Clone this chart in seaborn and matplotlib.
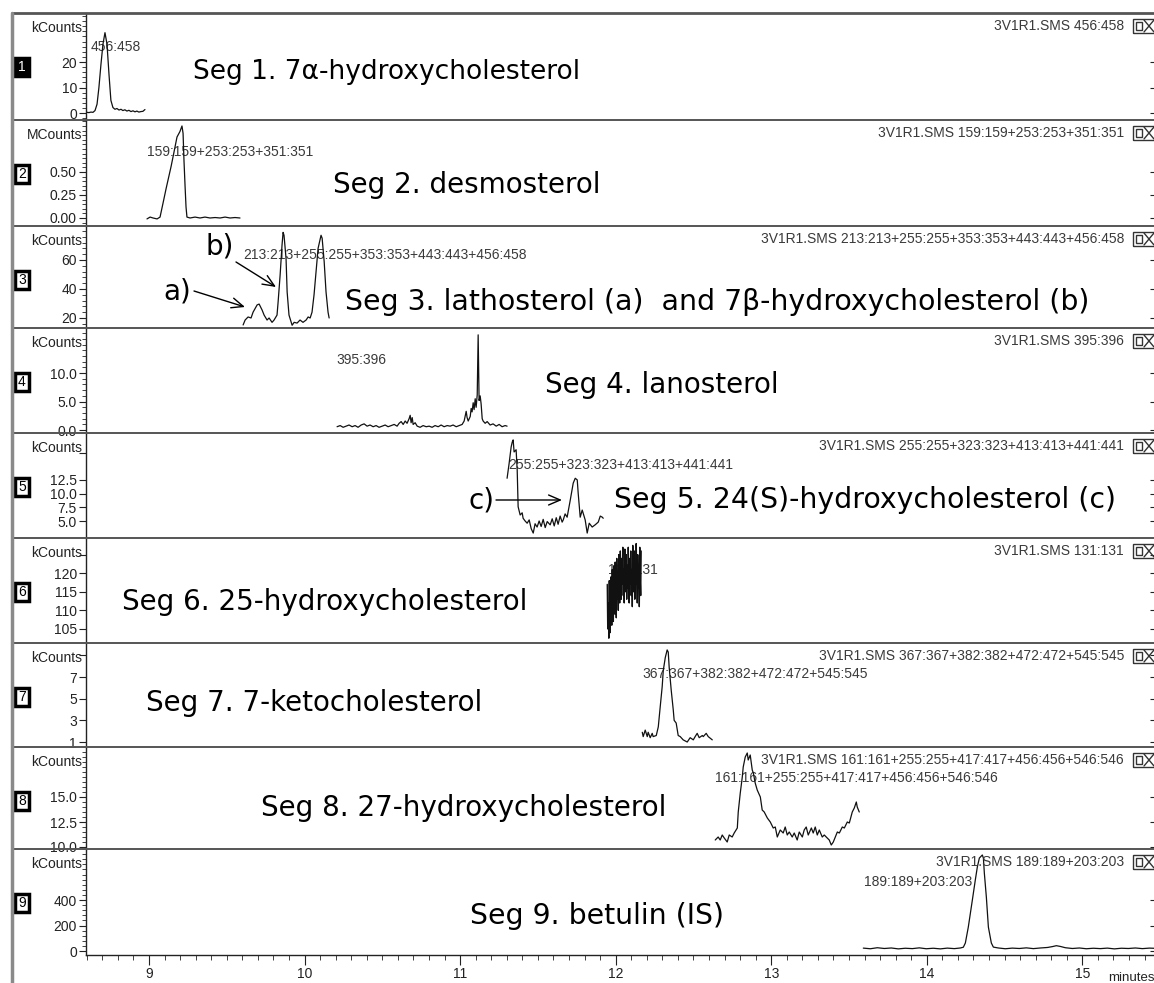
import matplotlib
matplotlib.use("Agg")
import matplotlib.pyplot as plt
from matplotlib.lines import Line2D
from matplotlib.patches import Rectangle
from matplotlib.ticker import MultipleLocator, NullLocator
import seaborn as sns

# ---------------- chromatogram traces (retention time in minutes, intensity) ----------------
seg1_time = [8.601, 8.614, 8.627, 8.640, 8.653, 8.666, 8.678, 8.691, 8.704, 8.717,
             8.730, 8.743, 8.755, 8.768, 8.781, 8.794, 8.807, 8.820, 8.832, 8.845,
             8.858, 8.871, 8.884, 8.897, 8.910, 8.922, 8.935, 8.948, 8.961, 8.974]
seg1_counts = [0.3, 0.2, 0.4, 0.3, 1.0, 3.5, 10.0, 19.0, 27.0, 31.5,
               27.0, 15.0, 5.0, 2.2, 1.5, 1.8, 1.2, 1.5, 1.0, 1.3,
               0.8, 1.1, 0.6, 0.9, 0.5, 0.8, 0.4, 0.6, 0.7, 1.4]

seg2_time = [8.987, 9.007, 9.026, 9.052, 9.071, 9.090, 9.110, 9.122, 9.142, 9.154,
             9.167, 9.180, 9.199, 9.212, 9.219, 9.225, 9.232, 9.238, 9.244, 9.264,
             9.296, 9.328, 9.360, 9.392, 9.425, 9.457, 9.489, 9.521, 9.553, 9.585]
seg2_counts = [-0.01, 0.01, 0.0, -0.01, 0.01, 0.16, 0.32, 0.41, 0.56, 0.66,
               0.77, 0.88, 0.94, 1.0, 0.92, 0.62, 0.34, 0.12, 0.01, 0.0,
               0.01, 0.0, 0.01, 0.0, 0.005, 0.0, 0.01, 0.0, 0.005, 0.0]

seg3_time = [9.605, 9.618, 9.637, 9.656, 9.669, 9.695, 9.708, 9.727, 9.740, 9.759,
             9.772, 9.791, 9.804, 9.823, 9.830, 9.843, 9.855, 9.862, 9.868, 9.881,
             9.888, 9.900, 9.920, 9.933, 9.952, 9.971, 9.990, 10.010, 10.023, 10.036,
             10.048, 10.061, 10.074, 10.087, 10.106, 10.113, 10.126, 10.138, 10.151, 10.158]
seg3_counts = [15.2, 18.6, 20.7, 20.0, 24.0, 29.0, 29.6, 25.5, 22.0, 18.6,
               20.0, 17.0, 18.6, 22.0, 31.0, 49.7, 70.0, 79.0, 77.0, 61.0,
               38.0, 22.0, 15.0, 17.0, 16.5, 18.6, 17.0, 18.6, 20.7, 20.0,
               24.0, 36.0, 52.0, 68.0, 77.0, 75.0, 59.0, 38.0, 24.0, 20.0]

seg4_time = [10.209, 10.229, 10.248, 10.267, 10.286, 10.306, 10.325, 10.344, 10.364, 10.383,
             10.402, 10.421, 10.441, 10.460, 10.479, 10.499, 10.518, 10.537, 10.557, 10.576,
             10.595, 10.608, 10.621, 10.634, 10.647, 10.659, 10.672, 10.679, 10.685, 10.692,
             10.698, 10.711, 10.724, 10.743, 10.762, 10.782, 10.801, 10.820, 10.839, 10.859,
             10.878, 10.897, 10.917, 10.936, 10.955, 10.975, 10.994, 11.013, 11.026, 11.039,
             11.045, 11.052, 11.065, 11.071, 11.077, 11.084, 11.090, 11.097, 11.103, 11.110,
             11.116, 11.122, 11.129, 11.135, 11.142, 11.148, 11.161, 11.174, 11.193, 11.212,
             11.232, 11.251, 11.270, 11.289, 11.302]
seg4_counts = [0.6, 0.8, 0.5, 0.7, 0.9, 0.6, 0.8, 0.5, 0.9, 1.1,
               0.7, 0.9, 0.6, 0.8, 0.5, 0.7, 0.9, 0.6, 0.8, 1.0,
               0.7, 1.2, 1.5, 1.0, 1.6, 1.2, 2.0, 2.6, 1.3, 2.2,
               1.0, 1.3, 0.7, 0.5, 0.8, 0.6, 0.7, 0.5, 0.8, 0.6,
               0.9, 0.6, 0.8, 0.7, 0.9, 0.6, 0.8, 1.0, 1.6, 3.3,
               2.2, 1.6, 2.4, 3.8, 3.2, 4.8, 3.6, 5.5, 4.0, 6.2,
               16.7, 5.2, 6.0, 4.6, 2.0, 1.6, 1.2, 1.5, 0.9, 1.1,
               0.7, 1.0, 0.6, 0.8, 0.7]

seg5_time = [11.302, 11.315, 11.328, 11.335, 11.341, 11.347, 11.360, 11.367, 11.373, 11.386,
             11.399, 11.405, 11.418, 11.431, 11.444, 11.457, 11.470, 11.482, 11.495, 11.508,
             11.521, 11.534, 11.547, 11.560, 11.579, 11.592, 11.605, 11.618, 11.630, 11.643,
             11.656, 11.663, 11.675, 11.688, 11.708, 11.727, 11.740, 11.753, 11.759, 11.772,
             11.785, 11.804, 11.817, 11.830, 11.849, 11.868, 11.888, 11.901, 11.914, 11.920]
seg5_counts = [12.8, 15.5, 18.5, 19.4, 19.8, 17.6, 18.0, 14.3, 7.6, 6.1,
               6.5, 5.5, 5.0, 4.6, 5.2, 3.6, 2.8, 4.5, 3.9, 5.0,
               4.0, 5.3, 3.8, 4.9, 4.3, 5.4, 4.1, 5.6, 4.4, 5.9,
               4.8, 5.2, 6.3, 5.7, 8.8, 11.9, 12.8, 12.5, 10.1, 5.7,
               7.0, 5.2, 2.8, 4.6, 3.9, 4.3, 4.8, 5.9, 5.7, 5.5]

seg6_time = [11.946, 11.949, 11.952, 11.956, 11.959, 11.962, 11.965, 11.969, 11.972, 11.975,
             11.978, 11.981, 11.985, 11.988, 11.991, 11.994, 11.997, 12.001, 12.004, 12.007,
             12.010, 12.014, 12.017, 12.020, 12.023, 12.026, 12.030, 12.033, 12.036, 12.039,
             12.042, 12.046, 12.049, 12.052, 12.055, 12.059, 12.062, 12.065, 12.068, 12.071,
             12.075, 12.078, 12.081, 12.084, 12.087, 12.091, 12.094, 12.097, 12.100, 12.104,
             12.107, 12.110, 12.113, 12.116, 12.120, 12.123, 12.126, 12.129, 12.132, 12.136,
             12.139, 12.142, 12.145, 12.149, 12.152, 12.155, 12.158, 12.161, 12.164]
seg6_counts = [117.0, 105.0, 112.0, 102.5, 118.0, 108.0, 104.0, 119.0, 110.0, 106.0,
               121.0, 112.0, 107.0, 122.0, 115.0, 109.0, 123.0, 118.0, 108.0, 124.0,
               113.0, 120.0, 110.0, 125.0, 116.0, 112.0, 126.0, 119.0, 113.0, 124.0,
               117.0, 127.0, 114.0, 121.0, 112.0, 126.5, 118.0, 115.0, 125.0, 113.0,
               122.0, 116.0, 127.0, 119.0, 112.0, 124.0, 117.0, 126.0, 114.0, 121.0,
               111.0, 127.5, 120.0, 115.0, 126.0, 113.0, 122.0, 117.0, 128.0, 119.0,
               112.0, 125.0, 116.0, 121.0, 111.0, 127.0, 118.0, 114.0, 126.0]

seg7_time = [12.171, 12.177, 12.190, 12.203, 12.209, 12.222, 12.235, 12.241, 12.261, 12.274,
             12.286, 12.299, 12.306, 12.319, 12.331, 12.338, 12.344, 12.357, 12.370, 12.376,
             12.389, 12.402, 12.415, 12.434, 12.460, 12.479, 12.499, 12.511, 12.524, 12.537,
             12.557, 12.563, 12.582, 12.595, 12.621]
seg7_counts = [1.9, 1.5, 2.1, 1.5, 1.9, 1.4, 1.8, 1.5, 1.6, 2.4,
               4.2, 6.1, 7.6, 8.8, 9.5, 9.3, 7.9, 5.8, 4.0, 3.0,
               2.75, 1.6, 1.5, 1.2, 1.0, 1.4, 1.2, 1.5, 1.8, 1.4,
               1.6, 1.5, 1.8, 1.5, 1.2]

seg8_time = [12.640, 12.659, 12.672, 12.685, 12.698, 12.717, 12.730, 12.749, 12.762, 12.782,
             12.788, 12.801, 12.814, 12.820, 12.833, 12.846, 12.852, 12.865, 12.878, 12.885,
             12.897, 12.910, 12.930, 12.942, 12.955, 12.975, 12.994, 13.013, 13.026, 13.039,
             13.058, 13.077, 13.090, 13.103, 13.116, 13.135, 13.148, 13.167, 13.180, 13.200,
             13.212, 13.225, 13.238, 13.258, 13.270, 13.283, 13.296, 13.309, 13.328, 13.341,
             13.360, 13.373, 13.386, 13.399, 13.412, 13.425, 13.438, 13.457, 13.470, 13.489,
             13.502, 13.521, 13.534, 13.547, 13.553, 13.566]
seg8_counts = [10.7, 11.0, 10.7, 11.2, 10.9, 10.5, 11.2, 11.0, 11.4, 11.9,
               13.5, 15.4, 17.0, 18.0, 19.0, 19.4, 18.7, 19.2, 17.7, 17.4,
               16.4, 15.7, 15.0, 13.7, 13.5, 12.9, 12.5, 11.9, 12.0, 11.0,
               11.7, 11.4, 12.0, 11.2, 11.5, 11.0, 11.4, 10.7, 11.5, 11.0,
               11.7, 12.0, 11.2, 11.9, 11.4, 12.0, 11.2, 11.7, 11.0, 11.2,
               10.9, 10.7, 10.2, 10.5, 11.0, 11.5, 11.4, 12.0, 11.9, 12.5,
               12.4, 13.5, 13.9, 14.5, 14.0, 13.5]

seg9_time = [13.592, 13.637, 13.682, 13.727, 13.772, 13.817, 13.862, 13.907, 13.952, 13.997,
             14.042, 14.087, 14.132, 14.177, 14.216, 14.235, 14.248, 14.267, 14.293, 14.312,
             14.325, 14.338, 14.357, 14.364, 14.370, 14.383, 14.396, 14.415, 14.428, 14.460,
             14.505, 14.550, 14.595, 14.640, 14.685, 14.730, 14.776, 14.808, 14.833, 14.859,
             14.891, 14.936, 14.981, 15.026, 15.071, 15.116, 15.161, 15.206, 15.251, 15.296,
             15.341, 15.386, 15.431, 15.476]
seg9_counts = [23, 18, 26, 20, 24, 17, 22, 19, 25, 18,
               22, 17, 23, 19, 24, 30, 63, 188, 400, 557,
               659, 729, 753, 729, 612, 423, 188, 63, 31, 24,
               18, 23, 20, 25, 19, 24, 28, 35, 42, 36,
               26, 20, 24, 18, 22, 19, 23, 17, 22, 20,
               24, 19, 23, 21]

# ---------------- texts and axis labelling ----------------
seg_titles = ["Seg 1. 7\u03b1-hydroxycholesterol",
              "Seg 2. desmosterol",
              "Seg 3. lathosterol (a)  and 7\u03b2-hydroxycholesterol (b)",
              "Seg 4. lanosterol",
              "Seg 5. 24(S)-hydroxycholesterol (c)",
              "Seg 6. 25-hydroxycholesterol",
              "Seg 7. 7-ketocholesterol",
              "Seg 8. 27-hydroxycholesterol",
              "Seg 9. betulin (IS)"]
seg_units = ["kCounts", "MCounts", "kCounts", "kCounts", "kCounts",
             "kCounts", "kCounts", "kCounts", "kCounts"]
seg_ions = ["456:458",
            "159:159+253:253+351:351",
            "213:213+255:255+353:353+443:443+456:458",
            "395:396",
            "255:255+323:323+413:413+441:441",
            "131:131",
            "367:367+382:382+472:472+545:545",
            "161:161+255:255+417:417+456:456+546:546",
            "189:189+203:203"]
data_file = "3V1R1.SMS"
seg_yticks = [[0, 10, 20], [0, 0.25, 0.5], [20, 40, 60], [0, 5, 10],
              [5, 7.5, 10, 12.5], [105, 110, 115, 120], [1, 3, 5, 7],
              [10, 12.5, 15], [0, 200, 400]]
seg_yticklabels = [["0", "10", "20"], ["0.00", "0.25", "0.50"], ["20", "40", "60"],
                   ["0.0", "5.0", "10.0"], ["5.0", "7.5", "10.0", "12.5"],
                   ["105", "110", "115", "120"], ["1", "3", "5", "7"],
                   ["10.0", "12.5", "15.0"], ["0", "200", "400"]]
time_ticks = [9, 10, 11, 12, 13, 14, 15]
time_ticklabels = ["9", "10", "11", "12", "13", "14", "15"]
time_unit = "minutes"
peak_marks = ["a)", "b)", "c)"]

traces = [(seg1_time, seg1_counts), (seg2_time, seg2_counts), (seg3_time, seg3_counts),
          (seg4_time, seg4_counts), (seg5_time, seg5_counts), (seg6_time, seg6_counts),
          (seg7_time, seg7_counts), (seg8_time, seg8_counts), (seg9_time, seg9_counts)]

# ---------------- layout (pixels on a 1154 x 983 canvas) ----------------
W, H, DPI = 1154, 983, 100
panel_edges = [13, 120, 226, 328, 433, 538, 643, 747, 849, 955]
axis_left, axis_right = 86, 1157
xlim = (8.595, 15.48)
ylims = [(-2.7, 39.2), (-0.087, 1.065), (13.1, 83.4), (-0.5, 17.9), (1.9, 21.06),
         (101.2, 129.5), (0.54, 10.14), (9.8, 20.0), (-31, 800)]
hidden_top_tick = [None, None, None, None, 17.5, 125, 9, None, None]
minor_steps = [2, 0.05, 4, 1, None, None, None, 0.5, 40]
trace_widths = [0.9, 0.9, 0.9, 0.9, 0.9, 1.0, 0.9, 0.9, 0.9]
title_pos = [(193, 72), (333, 185), (345, 302), (545, 385), (614, 500),
             (122, 602), (146, 703), (261, 808), (470, 916)]
title_sizes = [19, 20, 20.4, 20, 20.4, 20, 20, 20, 20.4]
ion_pos = [(91, 47), (147, 152), (243, 255), (336, 360), (508, 465),
           (608, 570), (642, 674), (715, 778), (864, 882)]
mark_pos = [(163, 292), (206, 247), (468, 500)]
arrow_pos = [((194, 291), (245, 307)), ((236, 262), (276, 287)), ((496, 500), (562, 500))]

TRACE = "#111111"
INK = "#222222"
GRAY_TXT = "#3a3a3a"
HAND_FONT = ["DejaVu Sans"]
MARK_SIZE = 20

sns.set_theme(style="white")
plt.rcParams["font.family"] = ["Liberation Sans", "DejaVu Sans"]
plt.rcParams["axes.linewidth"] = 1.0

fig = plt.figure(figsize=(W / DPI, H / DPI), dpi=DPI)
fig.patch.set_facecolor("white")


def fxy(px, py):
    return px / W, 1 - py / H


axes = []
for i, (t, v) in enumerate(traces):
    top, bot = panel_edges[i], panel_edges[i + 1]
    ax = fig.add_axes([axis_left / W, 1 - bot / H, (axis_right - axis_left) / W, (bot - top) / H])
    ax.set_facecolor("none")
    sns.lineplot(x=t, y=v, ax=ax, color=TRACE, linewidth=trace_widths[i], estimator=None,
                 sort=False, zorder=2)
    ax.set_xlim(*xlim)
    ax.set_ylim(*ylims[i])
    ax.set_xlabel("")
    ax.set_ylabel("")

    ticks = list(seg_yticks[i])
    labels = list(seg_yticklabels[i])
    if hidden_top_tick[i] is not None:
        ticks.append(hidden_top_tick[i])
        labels.append("")
    ax.set_yticks(ticks)
    ax.set_yticklabels(labels)
    if minor_steps[i]:
        ax.yaxis.set_minor_locator(MultipleLocator(minor_steps[i]))
    else:
        ax.yaxis.set_minor_locator(NullLocator())
    ax.tick_params(axis="y", which="major", left=True, direction="out", length=5, width=0.8,
                   color=INK, labelcolor=INK, labelsize=10, pad=1.5)
    ax.tick_params(axis="y", which="minor", left=True, direction="out", length=3, width=0.6, color=INK)

    for side in ("top", "right", "bottom"):
        ax.spines[side].set_visible(False)
    ax.spines["left"].set_color(INK)
    ax.spines["left"].set_linewidth(1.0)

    if i == len(traces) - 1:
        ax.spines["bottom"].set_visible(True)
        ax.spines["bottom"].set_color(INK)
        ax.set_xticks(time_ticks)
        ax.set_xticklabels(time_ticklabels)
        ax.xaxis.set_minor_locator(MultipleLocator(0.1))
        ax.tick_params(axis="x", which="major", bottom=True, direction="out", length=7, width=0.8,
                       color=INK, labelcolor=INK, labelsize=10, pad=2)
        ax.tick_params(axis="x", which="minor", bottom=True, direction="out", length=3.5,
                       width=0.6, color=INK)
    else:
        ax.tick_params(axis="x", which="both", bottom=False, labelbottom=False)

    # mirrored ticks on the right edge
    rax = ax.twinx()
    rax.set_ylim(*ylims[i])
    rax.set_yticks(ticks)
    rax.tick_params(axis="y", which="major", right=True, direction="in", length=5, width=0.8,
                    color=INK, labelright=False)
    rax.yaxis.set_minor_locator(NullLocator())
    for side in rax.spines:
        rax.spines[side].set_visible(False)
    rax.grid(False)
    ax.grid(False)

    # unit label at the top of the scale
    ux, uy = fxy(82, top + 15)
    ax.text(ux, uy, seg_units[i], transform=fig.transFigure, ha="right", va="center",
            fontsize=10, color=INK)

    # header with file name and monitored ions
    hx, hy = fxy(1124, top + 13)
    ax.text(hx, hy, f"{data_file} {seg_ions[i]}", transform=fig.transFigure, ha="right",
            va="center", fontsize=10, color=GRAY_TXT)

    # ion label near the trace (drawn beneath the trace)
    lx, ly = fxy(*ion_pos[i])
    ax.text(lx, ly, seg_ions[i], transform=fig.transFigure, ha="left", va="center",
            fontsize=10, color=GRAY_TXT, zorder=1)

    # segment title
    tx, ty = fxy(*title_pos[i])
    ax.text(tx, ty, seg_titles[i], transform=fig.transFigure, ha="left", va="center",
            fontsize=title_sizes[i], family=HAND_FONT, color="black", zorder=3)

    # window control icon at the top right
    bx0, by0 = 1133, top + 6
    fig.add_artist(Rectangle(fxy(bx0, by0 + 14), 30 / W, 14 / H, transform=fig.transFigure,
                             fill=False, edgecolor="#333333", linewidth=1.0))
    fig.add_artist(Rectangle(fxy(bx0 + 3, by0 + 11), 6 / W, 8 / H, transform=fig.transFigure,
                             fill=False, edgecolor="#333333", linewidth=1.0))
    x1, y1 = fxy(bx0 + 11, by0 + 1)
    x2, y2 = fxy(bx0 + 21, by0 + 13)
    fig.add_artist(Line2D([x1, x2], [y1, y2], transform=fig.transFigure, color="#333333", lw=1.0))
    fig.add_artist(Line2D([x1, x2], [y2, y1], transform=fig.transFigure, color="#333333", lw=1.0))

    # segment number box
    cy = top + 54
    face = "black" if i == 0 else "white"
    tcol = "white" if i == 0 else "black"
    fig.add_artist(Rectangle(fxy(15, cy + 9), 14 / W, 18 / H, transform=fig.transFigure,
                             facecolor=face, edgecolor="black", linewidth=2.5))
    nx, ny = fxy(22, cy)
    fig.text(nx, ny, str(i + 1), ha="center", va="center", fontsize=10, color=tcol)
    axes.append(ax)

# peak markers with arrows
for k, mark in enumerate(peak_marks):
    ax = axes[2] if k < 2 else axes[4]
    mx, my = fxy(*mark_pos[k])
    ax.text(mx, my, mark, transform=fig.transFigure, ha="left", va="center",
            fontsize=MARK_SIZE, family=HAND_FONT, color="black")
    (sx, sy), (ex, ey) = arrow_pos[k]
    ax.annotate("", xy=fxy(ex, ey), xytext=fxy(sx, sy), xycoords="figure fraction",
                textcoords="figure fraction",
                arrowprops=dict(arrowstyle="->,head_length=0.7,head_width=0.3", color="black",
                                lw=1.0, shrinkA=0, shrinkB=0))

# panel separators and outer frame
for y in panel_edges[1:-1]:
    fig.add_artist(Line2D([12 / W, 1.0], [1 - y / H, 1 - y / H], transform=fig.transFigure,
                          color="#555555", lw=1.4))
fig.add_artist(Line2D([12 / W, 1.0], [1 - 13 / H, 1 - 13 / H], transform=fig.transFigure,
                      color="#555555", lw=2.0))
fig.add_artist(Line2D([12 / W, 12 / W], [1 - 13 / H, 0.0], transform=fig.transFigure,
                      color="#8a8a8a", lw=2.5))

# time axis unit
ux, uy = fxy(1108, 978)
fig.text(ux, uy, time_unit, ha="left", va="center", fontsize=9.5, color=INK)

fig.savefig("out.png", dpi=DPI, facecolor="white")
